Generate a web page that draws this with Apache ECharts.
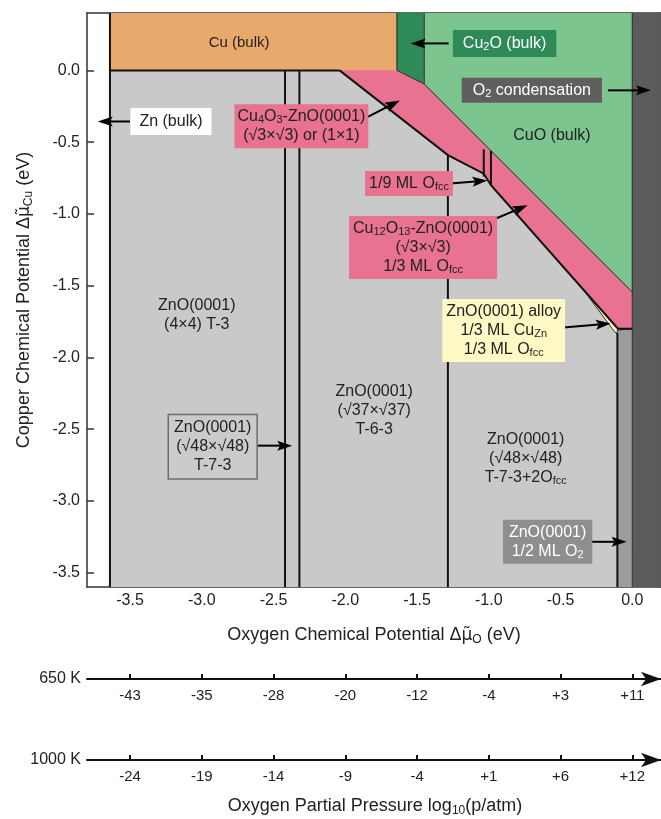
<!DOCTYPE html>
<html>
<head>
<meta charset="utf-8">
<script src="https://cdn.jsdelivr.net/npm/echarts@6/dist/echarts.min.js"></script>
<style>
  html, body { margin: 0; padding: 0; background: #fff; }
  #chart { width: 661px; height: 819px; }
</style>
</head>
<body>
<div id="chart"></div>
<script>
// ---- axes (eV) ----
const xRange = [-3.8, 0.2];
const yRange = [-3.6, 0.4];
const xTicks = [-3.5, -3.0, -2.5, -2.0, -1.5, -1.0, -0.5, 0.0];
const yTicks = [0.0, -0.5, -1.0, -1.5, -2.0, -2.5, -3.0, -3.5];

// oxygen partial pressure log10(p/atm) at each Δμ_O tick
const p650K = ['-43', '-35', '-28', '-20', '-12', '-4', '+3', '+11'];
const p1000K = ['-24', '-19', '-14', '-9', '-4', '+1', '+6', '+12'];

// ---- phase boundaries, points are [Δμ_O, Δμ_Cu] ----
const znEdge = -3.64;            // Zn bulk / ZnO
const cu2oLeft = -1.64;          // Cu bulk / Cu2O
const cu2oCorner = [-1.45, -0.095];
const cuoEnd = [0.0, -1.545];
const cuFreeLines = [-2.42, -2.32, -1.285, -0.104];   // vertical boundaries of Cu-free ZnO phases
const oxideLower = [[-2.04, 0.0], [-1.285, -0.59], [-1.035, -0.72], [-0.985, -0.80], [-0.10, -1.80], [0.0, -1.80]];
const ninthML = [[-1.035, -0.72], [-0.985, -0.80]];
const alloy = [[-0.34, -1.53], [-0.10, -1.80], [-0.11, -1.835], [-0.14, -1.80]];

// ---- regions ----
const regions = [
  { pts: [[znEdge, 0], [0, 0], [0, -3.6], [znEdge, -3.6]], fill: '#c9c9c9' },
  { pts: [[znEdge, 0.4], [cu2oLeft, 0.4], [cu2oLeft, 0], [znEdge, 0]], fill: '#e9a96c' },
  { pts: [[cu2oLeft, 0.4], [cu2oCorner[0], 0.4], cu2oCorner, [cu2oLeft, 0]], fill: '#2e8b57' },
  { pts: [[cu2oCorner[0], 0.4], [0, 0.4], cuoEnd, cu2oCorner], fill: '#7cc58f' },
  { pts: [[0, 0.4], [0.2, 0.4], [0.2, -3.6], [0, -3.6]], fill: '#5b5b5b' },
  { pts: [[-0.104, -1.81], [0, -1.80], [0, -3.6], [-0.104, -3.6]], fill: '#9c9c9c' },
  { pts: [[-2.04, 0], [cu2oLeft, 0], cu2oCorner, cuoEnd].concat(oxideLower.slice().reverse()), fill: '#e8728f' },
  { pts: alloy, fill: '#fff9c6' }
];

// ---- black boundary lines ----
const lines = [
  [[znEdge, 0.4], [znEdge, -3.6]],
  [[znEdge, 0], [-2.04, 0]],
  oxideLower,
  [[cuFreeLines[0], 0], [cuFreeLines[0], -3.6]],
  [[cuFreeLines[1], 0], [cuFreeLines[1], -3.6]],
  [[cuFreeLines[2], -0.59], [cuFreeLines[2], -3.6]],
  [[cuFreeLines[3], -1.83], [cuFreeLines[3], -3.6]],
  [[ninthML[0][0], -0.55], [ninthML[0][0], -0.74]],
  [[ninthML[1][0], -0.56], [ninthML[1][0], -0.80]]
];
const thinLines = [
  [[cu2oLeft, 0.4], [cu2oLeft, 0], cu2oCorner, [cu2oCorner[0], 0.4]],
  [cu2oCorner, cuoEnd],
  [[0, 0.4], [0, -3.6]],
  [[-0.104, -1.81], [0, -1.80]],
  alloy.concat([alloy[0]])
];

// ---- annotations ----
const F = 'Liberation Sans, Arial, sans-serif';
const labels = [
  { at: [-2.74, 0.195], text: 'Cu (bulk)', size: 15 },
  { at: [-0.89, 0.188], text: 'Cu{s|2}O (bulk)', bg: '#2e8b57', color: '#fff', pad: [4, 10, 4, 10] },
  { at: [-0.70, -0.139], text: 'O{s|2} condensation', bg: '#5f5f5f', color: '#fff', pad: [3, 11, 3, 11] },
  { at: [-0.56, -0.453], text: 'CuO (bulk)' },
  { at: [-3.215, -0.356], text: 'Zn (bulk)', bg: '#ffffff', pad: [4, 9, 4, 9] },
  { at: [-2.306, -0.39], text: 'Cu{s|4}O{s|3}-ZnO(0001)\n(√3×√3) or (1×1)', bg: '#e8728f', pad: [3, 3, 3, 3] },
  { at: [-1.556, -0.788], text: '1/9 ML O{s|fcc}', bg: '#e8728f', pad: [3, 4, 3, 4] },
  { at: [-1.458, -1.234], text: 'Cu{s|12}O{s|13}-ZnO(0001)\n(√3×√3)\n1/3 ML O{s|fcc}', bg: '#e8728f', pad: [3, 4, 3, 4] },
  { at: [-0.896, -1.813], text: 'ZnO(0001) alloy\n1/3 ML Cu{s|Zn}\n1/3 ML O{s|fcc}', bg: '#fff9c6', pad: [3, 4, 3, 4] },
  { at: [-3.035, -1.708], text: 'ZnO(0001)\n(4×4) T-3' },
  { at: [-2.924, -2.622], text: 'ZnO(0001)\n(√48×√48)\nT-7-3', bg: '#cbcbcb', border: '#6e6e6e', pad: [3, 5, 3, 5] },
  { at: [-1.799, -2.371], text: 'ZnO(0001)\n(√37×√37)\nT-6-3' },
  { at: [-0.743, -2.706], text: 'ZnO(0001)\n(√48×√48)\nT-7-3+2O{s|fcc}' },
  { at: [-0.59, -3.285], text: 'ZnO(0001)\n1/2 ML O{s|2}', bg: '#8e8e8e', color: '#fff', pad: [3, 6, 3, 6] }
];
const arrows = [
  { from: [-1.28, 0.188], to: [-1.545, 0.188] },
  { from: [-0.17, -0.139], to: [0.13, -0.139] },
  { from: [-3.50, -0.356], to: [-3.725, -0.356] },
  { from: [-1.85, -0.328], to: [-1.62, -0.209] },
  { from: [-1.27, -0.788], to: [-1.01, -0.767] },
  { from: [-0.95, -1.032], to: [-0.73, -0.94] },
  { from: [-0.48, -1.792], to: [-0.15, -1.764] },
  { from: [-2.62, -2.615], to: [-2.37, -2.615] },
  { from: [-0.29, -3.285], to: [-0.04, -3.285] }
];

function sub(color) {
  return { fontSize: 11, fontFamily: F, padding: [7, 0, 0, 0], lineHeight: 19, fill: color };
}
// axis-title rich styles: subscript and a μ with combining tilde
const titleRich = {
  s: { fontSize: 12, padding: [9, 0, 0, 0], fontFamily: F, color: '#222' },
  mu: { fontSize: 17, fontFamily: 'DejaVu Sans', color: '#222' }
};

const chart = echarts.init(document.getElementById('chart'), null, { renderer: 'canvas' });

const frameLine = { onZero: false, lineStyle: { color: '#333', width: 1.5 } };
const frameTick = (vals) => ({ show: true, inside: true, length: 7, customValues: vals, lineStyle: { color: '#333', width: 1.5 } });
const xBase = { type: 'value', min: xRange[0], max: xRange[1], splitLine: { show: false } };
const pressureAxis = (grid, name, values) => Object.assign({}, xBase, {
  gridIndex: grid, position: 'bottom',
  axisLine: { onZero: false, symbol: ['none', 'arrow'], symbolSize: [11, 20], lineStyle: { color: '#111', width: 2 } },
  axisTick: { show: true, inside: true, length: 5, customValues: xTicks, lineStyle: { color: '#111', width: 2 } },
  axisLabel: { customValues: xTicks, margin: 9, fontSize: 15, color: '#222', fontFamily: F,
    formatter: v => values[xTicks.indexOf(+(+v).toFixed(1))] },
  name: name, nameLocation: 'start', nameGap: 6,
  nameTextStyle: { fontSize: 16, color: '#222', fontFamily: F, verticalAlign: 'middle' }
});

const option = {
  animation: false,
  backgroundColor: '#fff',
  textStyle: { fontFamily: F },
  grid: [
    { left: 87, top: 13, width: 576, height: 574 },
    { left: 87, top: 678, width: 576, height: 1 },
    { left: 87, top: 759, width: 576, height: 1 }
  ],
  xAxis: [
    Object.assign({}, xBase, {
      gridIndex: 0, position: 'bottom',
      axisLine: frameLine,
      axisTick: frameTick(xTicks),
      axisLabel: { customValues: xTicks, margin: 6, fontSize: 16, color: '#222', fontFamily: F,
        formatter: v => (+v).toFixed(1) },
      name: 'Oxygen Chemical Potential Δ{mu|μ̃}{s|O} (eV)',
      nameLocation: 'middle', nameGap: 38,
      nameTextStyle: { fontSize: 18, color: '#222', fontFamily: F, rich: titleRich }
    }),
    Object.assign({}, xBase, {
      gridIndex: 0, position: 'top',
      axisLine: frameLine,
      axisTick: frameTick(xTicks),
      axisLabel: { show: false }
    }),
    pressureAxis(1, '650 K', p650K),
    pressureAxis(2, '1000 K', p1000K)
  ],
  yAxis: [
    {
      type: 'value', gridIndex: 0, min: yRange[0], max: yRange[1], position: 'left',
      splitLine: { show: false },
      axisLine: Object.assign({ show: true }, frameLine),
      axisTick: frameTick(yTicks),
      axisLabel: { customValues: yTicks, margin: 7, fontSize: 16, color: '#222', fontFamily: F,
        formatter: v => (+v).toFixed(1) },
      name: 'Copper Chemical Potential Δ{mu|μ̃}{s|Cu} (eV)',
      nameLocation: 'middle', nameGap: 52,
      nameTextStyle: { fontSize: 18, color: '#222', fontFamily: F, rich: titleRich }
    },
    {
      type: 'value', gridIndex: 0, min: yRange[0], max: yRange[1], position: 'right',
      splitLine: { show: false },
      axisLine: Object.assign({ show: true }, frameLine),
      axisTick: frameTick(yTicks),
      axisLabel: { show: false }
    },
    { type: 'value', gridIndex: 1, show: false },
    { type: 'value', gridIndex: 2, show: false }
  ],
  title: {
    text: 'Oxygen Partial Pressure log{s|10}(p/atm)',
    left: 370, top: 790, textAlign: 'center',
    textStyle: { fontSize: 18, fontWeight: 'normal', color: '#222', fontFamily: F,
      rich: { s: { fontSize: 12, padding: [10, 0, 0, 0], fontFamily: F, color: '#222' } } }
  },
  series: [
    {
      type: 'custom', xAxisIndex: 0, yAxisIndex: 0, z: 1, silent: true, clip: true,
      data: regions.map((r, i) => [i]),
      renderItem: (params, api) => {
        const r = regions[params.dataIndex];
        return { type: 'polygon', shape: { points: r.pts.map(p => api.coord(p)) },
          style: { fill: r.fill, stroke: r.fill, lineWidth: 0.5 } };
      }
    },
    {
      type: 'custom', xAxisIndex: 0, yAxisIndex: 0, z: 2, silent: true, clip: true,
      data: thinLines.map((r, i) => [i]),
      renderItem: (params, api) => ({
        type: 'polyline', shape: { points: thinLines[params.dataIndex].map(p => api.coord(p)) },
        style: { stroke: '#2a2a2a', lineWidth: 1, fill: null }
      })
    },
    {
      type: 'custom', xAxisIndex: 0, yAxisIndex: 0, z: 3, silent: true, clip: true,
      data: lines.map((r, i) => [i]),
      renderItem: (params, api) => ({
        type: 'polyline', shape: { points: lines[params.dataIndex].map(p => api.coord(p)) },
        style: { stroke: '#111', lineWidth: 2, fill: null }
      })
    },
    {
      type: 'custom', xAxisIndex: 0, yAxisIndex: 0, z: 4, silent: true, clip: false,
      data: arrows.map((r, i) => [i]),
      renderItem: (params, api) => {
        const a = arrows[params.dataIndex];
        const p0 = api.coord(a.from), p1 = api.coord(a.to);
        const dx = p1[0] - p0[0], dy = p1[1] - p0[1], L = Math.hypot(dx, dy);
        const ux = dx / L, uy = dy / L, hl = 15, hw = 5;
        const bx = p1[0] - ux * hl, by = p1[1] - uy * hl;
        return { type: 'group', children: [
          { type: 'line', shape: { x1: p0[0], y1: p0[1], x2: bx + ux * 3, y2: by + uy * 3 },
            style: { stroke: '#000', lineWidth: 2 } },
          { type: 'polygon', shape: { points: [p1, [bx - uy * hw, by + ux * hw], [bx + ux * 3, by + uy * 3], [bx + uy * hw, by - ux * hw]] },
            style: { fill: '#000' } }
        ] };
      }
    },
    {
      type: 'custom', xAxisIndex: 0, yAxisIndex: 0, z: 5, silent: true, clip: false,
      data: labels.map((r, i) => [i]),
      renderItem: (params, api) => {
        const l = labels[params.dataIndex];
        const c = api.coord(l.at);
        const color = l.color || '#222';
        const style = {
          text: l.text, x: c[0], y: c[1], align: 'center', verticalAlign: 'middle',
          fontSize: l.size || 16, fontFamily: F, fill: color, lineHeight: 19,
          rich: { s: sub(color) }
        };
        if (l.bg) {
          style.backgroundColor = l.bg;
          style.padding = l.pad || [3, 6, 3, 6];
        }
        if (l.border) {
          style.borderColor = l.border;
          style.borderWidth = 1.5;
        }
        return { type: 'text', style: style };
      }
    }
  ]
};
chart.setOption(option);
</script>
</body>
</html>
